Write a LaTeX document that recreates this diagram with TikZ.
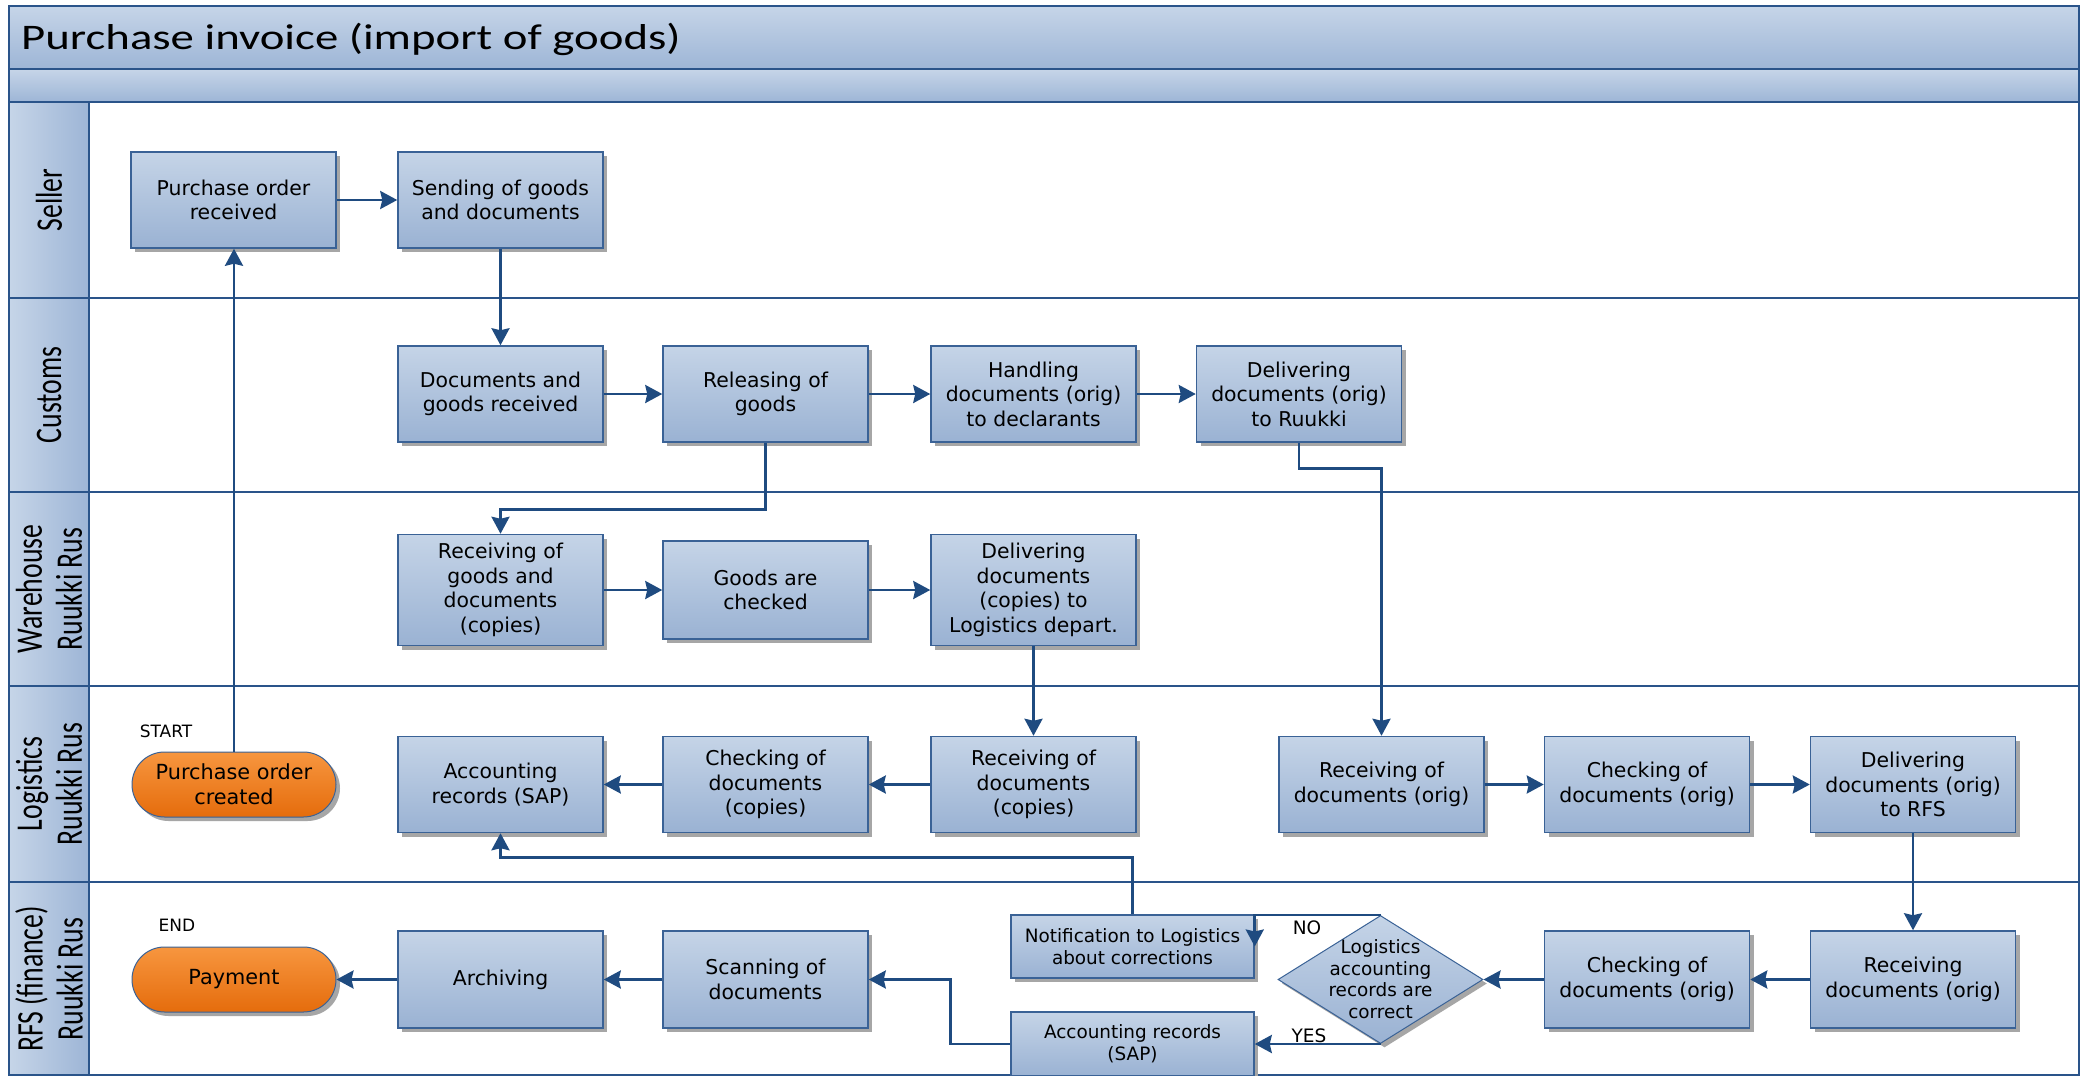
\documentclass[tikz,border=0pt]{standalone}
\usepackage{fontspec}
\setmainfont{DejaVu Sans}
\newfontfamily\titlefont[FakeStretch=1.30]{Carlito}
\newfontfamily\lanefont[FakeStretch=0.74]{Carlito}
\usetikzlibrary{arrows.meta,shapes.geometric,shapes.misc,shadows,calc}

\definecolor{lineblue}{HTML}{2A548A}
\definecolor{arrowblue}{HTML}{1F4B80}
\definecolor{boxtop}{HTML}{C5D4E7}
\definecolor{boxbot}{HTML}{9AB2D3}
\definecolor{boxedge}{HTML}{3A6296}
\definecolor{orangetop}{HTML}{F7963F}
\definecolor{orangebot}{HTML}{E56C0C}
\definecolor{shadowgray}{HTML}{A6A6A6}
\definecolor{headtop}{HTML}{C6D5E8}
\definecolor{headbot}{HTML}{9DB5D6}

\begin{document}
\begin{tikzpicture}[x=1pt,y=-1pt,
  shad/.style={drop shadow={shadow xshift=4pt,shadow yshift=-4pt,fill=shadowgray,opacity=1}},
  proc/.style={draw=boxedge, line width=1.5pt, top color=boxtop, bottom color=boxbot,
    minimum width=205pt, minimum height=96pt, inner sep=0pt, align=center,
    font=\fontsize{20.4}{24.5}\selectfont, shad},
  term/.style={rounded rectangle, draw=boxedge, line width=1pt, top color=orangetop, bottom color=orangebot,
    minimum width=204pt, minimum height=65pt, inner sep=0pt, align=center,
    font=\fontsize{20.8}{25}\selectfont, shad},
  decis/.style={diamond, draw=boxedge, line width=1pt, top color=boxtop, bottom color=boxbot,
    minimum width=205pt, minimum height=128pt, inner sep=0pt, shad},
  small/.style={font=\fontsize{18.4}{21.7}\selectfont, align=center, inner sep=0pt},
  lanelbl/.style={rotate=90, font=\lanefont\fontsize{37.5}{40}\selectfont, align=center, inner sep=0pt},
  conn/.style={draw=arrowblue, line width=2.7pt, -{Stealth[length=17pt,width=18pt,inset=2pt]}},
  lane/.style={draw=lineblue, line width=2pt}
]
\useasboundingbox (0,0) rectangle (2083,1076);
\fill[white] (0,0) rectangle (2083,1076);

% title band and subheader
\shade[top color=headtop, bottom color=headbot] (9,6) rectangle (2079,69);
\shade[top color=headtop, bottom color=headbot] (9,69) rectangle (2079,102);
\draw[lane] (9,6) rectangle (2079,69);
\draw[lane] (9,69) rectangle (2079,102);
\node[anchor=base west, font=\titlefont\fontsize{36}{40}\selectfont, inner sep=0pt] (title) at (21,49) {Purchase invoice (import of goods)};

% lane header column
\shade[left color=headtop, right color=headbot] (9,102) rectangle (89,1076);
\draw[lane] (9,102) rectangle (89,1076);
\foreach \ya/\yb in {102/298,298/492,492/686,686/882,882/1075} {
  \draw[lane] (9,\ya) rectangle (2079,\yb);
}
\draw[lane] (89,102) -- (89,1076);

\node[lanelbl] (lseller) at (49,200) {Seller};
\node[lanelbl] (lcustoms) at (49,395) {Customs};
\node[lanelbl] (lware) at (49,589) {Warehouse\\Ruukki Rus};
\node[lanelbl] (llog) at (49,784) {Logistics\\Ruukki Rus};
\node[lanelbl] (lrfs) at (49,979) {RFS (finance)\\Ruukki Rus};

% Seller
\node[proc] (porec) at (233.5,200) {Purchase order\\received};
\node[proc] (send) at (500.5,200) {Sending of goods\\and documents};

% Customs
\node[proc] (docrec) at (500.5,394) {Documents and\\goods received};
\node[proc] (release) at (765.5,394) {Releasing of\\goods};
\node[proc] (handle) at (1033.5,394) {Handling\\documents (orig)\\to declarants};
\node[proc] (delruukki) at (1299,394) {Delivering\\documents (orig)\\to Ruukki};

% Warehouse
\node[proc, minimum height=111pt] (recgoods) at (500.5,590) {Receiving of\\goods and\\documents\\(copies)};
\node[proc, minimum height=98pt] (goodschk) at (765.5,590) {Goods are\\checked};
\node[proc, minimum height=111pt] (delcopies) at (1033.5,590) {Delivering\\documents\\(copies) to\\Logistics depart.};

% Logistics
\node[font=\fontsize{17}{20}\selectfont, inner sep=0pt] (startlbl) at (166,731) {START};
\node[term] (start) at (234,784.5) {Purchase order\\created};
\node[proc] (acc1) at (500.5,784.5) {Accounting\\records (SAP)};
\node[proc] (chkcopies) at (765.5,784.5) {Checking of\\documents\\(copies)};
\node[proc] (reccopies) at (1033.5,784.5) {Receiving of\\documents\\(copies)};
\node[proc] (recorig) at (1381.5,784.5) {Receiving of\\documents (orig)};
\node[proc] (chkorig) at (1647,784.5) {Checking of\\documents (orig)};
\node[proc] (delrfs) at (1913,784.5) {Delivering\\documents (orig)\\to RFS};

% RFS
\node[font=\fontsize{17}{20}\selectfont, inner sep=0pt] (endlbl) at (177,925) {END};
\node[term] (pay) at (234,979.5) {Payment};
\node[proc, minimum height=97pt] (arch) at (500.5,979.5) {Archiving};
\node[proc, minimum height=97pt] (scan) at (765.5,979.5) {Scanning of\\documents};
\node[proc, minimum width=243pt, minimum height=63pt, font=\fontsize{18.4}{21.7}\selectfont] (notif) at (1132.5,946.5) {Notification to Logistics\\about corrections};
\node[proc, minimum width=243pt, minimum height=64pt, font=\fontsize{18.4}{21.7}\selectfont] (acc2) at (1132.5,1044) {Accounting records\\(SAP)};
\node[decis] (dia) at (1380.5,979.5) {};
\node[small] (diatext) at (1380.5,979) {Logistics\\accounting\\records are\\correct};
\node[proc, minimum height=97pt] (chkorig2) at (1647,979.5) {Checking of\\documents (orig)};
\node[proc, minimum height=97pt] (recorig2) at (1913,979.5) {Receiving\\documents (orig)};

% connectors
\draw[conn] (start.north) -- (start.north |- porec.south);
\draw[conn] (porec.east) -- (send.west);
\draw[conn] (send.south) -- (docrec.north);
\draw[conn] (docrec.east) -- (release.west);
\draw[conn] (release.east) -- (handle.west);
\draw[conn] (handle.east) -- (delruukki.west);
\draw[conn] (release.south) -- ++(0,67) -| (recgoods.north);
\draw[conn] (delruukki.south) -- ++(0,26) -| (recorig.north);
\draw[conn] (recgoods.east) -- (goodschk.west);
\draw[conn] (goodschk.east) -- (delcopies.west);
\draw[conn] (delcopies.south) -- (reccopies.north);
\draw[conn] (reccopies.west) -- (chkcopies.east);
\draw[conn] (chkcopies.west) -- (acc1.east);
\draw[conn] (recorig.east) -- (chkorig.west);
\draw[conn] (chkorig.east) -- (delrfs.west);
\draw[conn] (delrfs.south) -- (recorig2.north);
\draw[conn] (recorig2.west) -- (chkorig2.east);
\draw[conn] (chkorig2.west) -- (dia.east);
\draw[conn] (dia.north) -| (notif.east);
\draw[conn] (dia.south) -- (dia.south -| acc2.east);
\draw[conn] (notif.north) -- ++(0,-57) -| (acc1.south);
\draw[conn] (acc2.west) -- ++(-60,0) |- (scan.east);
\draw[conn] (scan.west) -- (arch.east);
\draw[conn] (arch.west) -- (pay.east);

\node[font=\fontsize{18.5}{20}\selectfont, inner sep=0pt] (nolbl) at (1307,928) {NO};
\node[font=\fontsize{18.5}{20}\selectfont, inner sep=0pt] (yeslbl) at (1309,1036) {YES};
\end{tikzpicture}
\end{document}
